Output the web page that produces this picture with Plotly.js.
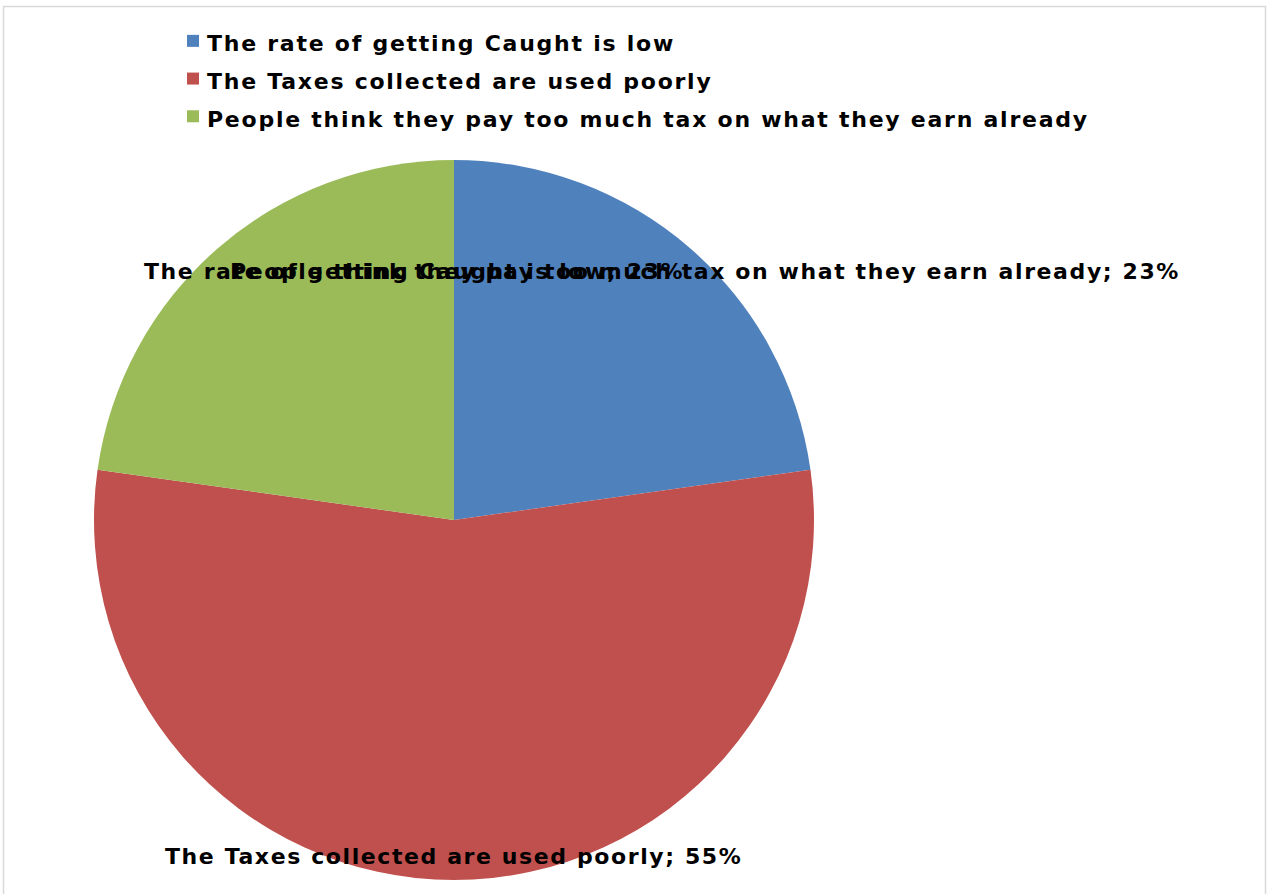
<!DOCTYPE html>
<html>
<head>
<meta charset="utf-8">
<script src="https://cdn.plot.ly/plotly-3.0.1.min.js"></script>
<style>
  html, body { margin: 0; padding: 0; background: #ffffff; }
  #chart { width: 1269px; height: 894px; }
  .legendtext { font-size: 22px !important; letter-spacing: 1.75px; transform: translateX(-6px); }
  .annotation-text { letter-spacing: 1.6px; }
</style>
</head>
<body>
<div id="chart"></div>
<script>
const categories = [
  "The rate of getting Caught is low",
  "The Taxes collected are used poorly",
  "People think they pay too much tax on what they earn already"
];
const values = [23, 55, 23];
const colors = ["#4F81BD", "#C0504D", "#9BBB59"];

const W = 1269, H = 894;
const FONT = "DejaVu Sans, Liberation Sans, sans-serif";

const trace = {
  type: "pie",
  labels: categories,
  values: values,
  sort: false,
  direction: "clockwise",
  rotation: 0,
  marker: { colors: colors, line: { width: 0 } },
  textinfo: "none",
  hoverinfo: "label+value",
  domain: { x: [94 / W, 814 / W], y: [14 / H, 734 / H] },
  showlegend: true
};

// data-label annotations built from the arrays (Excel-style "best fit" placement)
const labelPos = [
  { x: 142, y: 272 },
  { x: 163, y: 856 },
  { x: 228, y: 272 }
];
const annotations = categories.map((c, i) => ({
  text: "<b>" + c + "; " + values[i] + "%</b>",
  xref: "paper", yref: "paper",
  x: labelPos[i].x / W, y: 1 - labelPos[i].y / H,
  xanchor: "left", yanchor: "middle",
  showarrow: false,
  font: { family: FONT, size: 22, color: "#000000" }
}));

const layout = {
  width: W, height: H,
  margin: { l: 0, r: 0, t: 0, b: 0 },
  paper_bgcolor: "#ffffff",
  showlegend: true,
  legend: {
    x: 173 / W, y: 1 - 17 / H,
    xanchor: "left", yanchor: "top",
    orientation: "v",
    font: { family: FONT, size: 26.7, color: "#000000", weight: "bold" },
    bgcolor: "rgba(0,0,0,0)",
    traceorder: "normal"
  },
  annotations: annotations,
  shapes: [{
    type: "rect", xref: "paper", yref: "paper",
    x0: 3.5 / W, x1: 1265.5 / W, y0: -0.02, y1: 1 - 6.5 / H,
    line: { color: "#d9d9d9", width: 1.5 }, fillcolor: "rgba(0,0,0,0)", layer: "below"
  }]
};

Plotly.newPlot("chart", [trace], layout, { displayModeBar: false, staticPlot: true });
</script>
</body>
</html>
